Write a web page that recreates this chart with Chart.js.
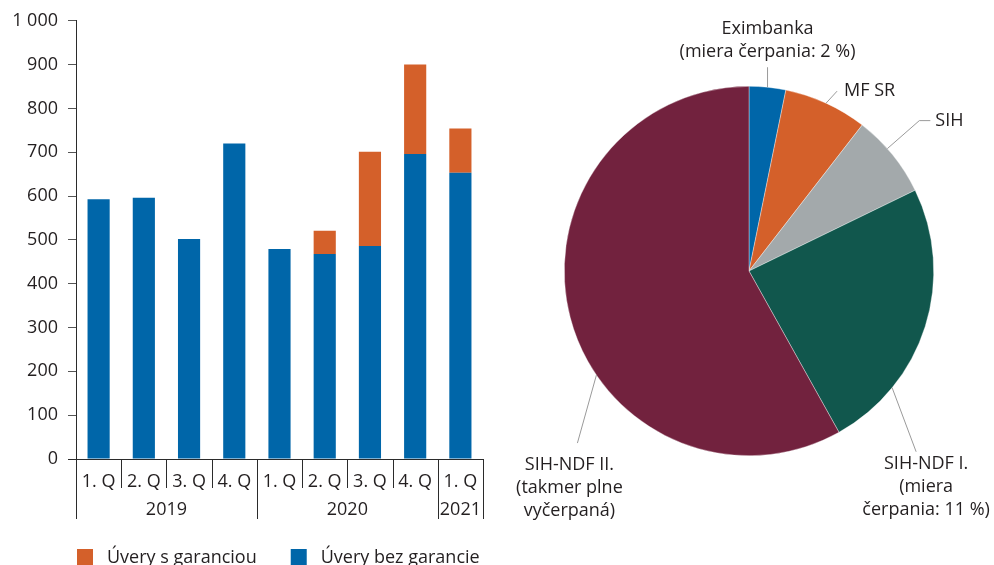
<!DOCTYPE html>
<html lang="sk">
<head>
<meta charset="utf-8">
<title>Úvery a finančné nástroje</title>
<script src="https://cdn.jsdelivr.net/npm/chart.js@4.4.1/dist/chart.umd.min.js"></script>
<style>
  html, body { margin:0; padding:0; background:#fff; overflow:hidden; }
  #wrap { position:relative; width:994px; height:565px; overflow:hidden; }
  #barChart { position:absolute; left:0; top:0; }
  #pieChart { position:absolute; left:500px; top:0; }
</style>
</head>
<body>
<div id="wrap">
  <canvas id="barChart" width="500" height="590"></canvas>
  <canvas id="pieChart" width="494" height="565"></canvas>
</div>
<script>
// bar chart data
const quarters   = ['1. Q','2. Q','3. Q','4. Q','1. Q','2. Q','3. Q','4. Q','1. Q'];
const years      = ['2019','2020','2021'];
const yearSpans  = [4, 4, 1];
const withoutGuarantee = [593, 596, 502, 720, 479, 468, 486, 696, 653];
const withGuarantee    = [null, null, null, null, null, 53, 215, 204, 101];
const seriesNames = ['Úvery bez garancie', 'Úvery s garanciou'];
const yMin = 0, yMax = 1000, yStep = 100;

// pie chart data
const pieNames  = ['Eximbanka', 'MF SR', 'SIH', 'SIH-NDF I.', 'SIH-NDF II.'];
const pieShares = [3.2, 7.3, 7.3, 24.1, 58.1];
const pieTexts  = [
  ['Eximbanka', '(miera čerpania: 2 %)'],
  ['MF SR'],
  ['SIH'],
  ['SIH-NDF I.', '(miera', 'čerpania: 11 %)'],
  ['SIH-NDF II.', '(takmer plne', 'vyčerpaná)']
];

const BLUE = '#0066a9', ORANGE = '#d4602a', GREY = '#a3a9ab', GREEN = '#11574d', MAROON = '#72223e';
const INK = '#231f20', RULE = '#2b2b2b', LEADER = '#9a9a9a';
const FONT = '"Open Sans"';
const SIZE = 18;

Chart.defaults.font.family = FONT;
Chart.defaults.font.size = SIZE;
Chart.defaults.color = INK;

const fmt = v => v >= 1000 ? String(v).replace(/\B(?=(\d{3})+(?!\d))/g, ' ') : String(v);

// two-level category axis + legend below the bars
const quarterAxis = {
  id: 'quarterAxis',
  afterDraw(chart) {
    const { ctx, chartArea: a, scales: { x } } = chart;
    const step = (a.right - a.left) / quarters.length;
    ctx.save();
    ctx.strokeStyle = RULE;
    ctx.lineWidth = 1;
    ctx.beginPath();
    ctx.moveTo(a.left - 8, a.bottom + 0.5);
    ctx.lineTo(a.right, a.bottom + 0.5);
    // year boundaries
    let idx = 0;
    const yearEdges = [0];
    yearSpans.forEach(s => { idx += s; yearEdges.push(idx); });
    for (let i = 0; i <= quarters.length; i++) {
      const bx = Math.round(a.left + i * step) + 0.5;
      const long = yearEdges.includes(i);
      ctx.moveTo(bx, a.bottom);
      ctx.lineTo(bx, a.bottom + (long ? 60 : 29));
    }
    ctx.stroke();

    ctx.fillStyle = INK;
    ctx.font = SIZE + 'px ' + FONT;
    ctx.textAlign = 'center';
    ctx.textBaseline = 'middle';
    quarters.forEach((q, i) => ctx.fillText(q, x.getPixelForValue(i), a.bottom + 23));
    years.forEach((yr, i) => {
      const cx = a.left + (yearEdges[i] + yearEdges[i + 1]) / 2 * step;
      ctx.fillText(yr, cx, a.bottom + 51);
    });

    // legend
    const items = chart.data.datasets.slice().reverse();
    let lx = a.left + 1;
    const ly = a.bottom + 90;
    ctx.textAlign = 'left';
    items.forEach(ds => {
      ctx.fillStyle = ds.backgroundColor;
      ctx.fillRect(lx, ly, 16, 16);
      ctx.fillStyle = INK;
      ctx.fillText(ds.label, lx + 30, ly + 9);
      lx += 30 + ctx.measureText(ds.label).width + 34;
    });
    ctx.restore();
  }
};

new Chart(document.getElementById('barChart'), {
  type: 'bar',
  data: {
    labels: quarters,
    datasets: [
      { label: seriesNames[0], data: withoutGuarantee, backgroundColor: BLUE },
      { label: seriesNames[1], data: withGuarantee, backgroundColor: ORANGE }
    ]
  },
  options: {
    responsive: false,
    animation: false,
    layout: { padding: { top: 20, right: 17, bottom: 131, left: 0 } },
    categoryPercentage: 1,
    barPercentage: 0.49,
    plugins: { legend: { display: false }, tooltip: { enabled: false } },
    scales: {
      x: { stacked: true, display: false },
      y: {
        stacked: true,
        min: yMin, max: yMax,
        afterFit: s => { s.width = 76; },
        ticks: { stepSize: yStep, padding: 10, callback: v => fmt(v), color: INK },
        grid: { drawOnChartArea: false, tickLength: 8, color: '#555' },
        border: { color: RULE, width: 1 }
      }
    }
  },
  plugins: [quarterAxis]
});

// callouts: anchor angle in degrees from 12 o'clock (null = slice middle),
// leader path relative to the anchor, first text line relative to the path end
const callouts = [
  { angle: null,  path: [[0, -20]],             align: 'center', text: [0, -38] },
  { angle: null,  path: [[11, -12]],            align: 'left',   text: [7, 0] },
  { angle: 48.5,  path: [[32, -28], [43, -28]], align: 'left',   text: [5, 0] },
  { angle: 129.2, path: [[24, 64]],             align: 'center', text: [10, 12] },
  { angle: 235.7, path: [[-19, 68]],            align: 'center', text: [-8, 22] }
];

const pieCallouts = {
  id: 'pieCallouts',
  afterDraw(chart) {
    const { ctx } = chart;
    const meta = chart.getDatasetMeta(0);
    ctx.save();
    ctx.font = SIZE + 'px ' + FONT;
    ctx.textBaseline = 'middle';
    meta.data.forEach((arc, i) => {
      const c = callouts[i];
      const ang = c.angle === null ? (arc.startAngle + arc.endAngle) / 2 : (c.angle - 90) * Math.PI / 180;
      const ax = arc.x + arc.outerRadius * Math.cos(ang);
      const ay = arc.y + arc.outerRadius * Math.sin(ang);
      ctx.strokeStyle = LEADER;
      ctx.lineWidth = 1;
      ctx.beginPath();
      ctx.moveTo(ax, ay);
      let ex = ax, ey = ay;
      c.path.forEach(p => { ex = ax + p[0]; ey = ay + p[1]; ctx.lineTo(ex, ey); });
      ctx.stroke();
      ctx.fillStyle = INK;
      ctx.textAlign = c.align;
      pieTexts[i].forEach((line, k) => ctx.fillText(line, ex + c.text[0], ey + c.text[1] + k * 23));
    });
    ctx.restore();
  }
};

new Chart(document.getElementById('pieChart'), {
  type: 'pie',
  data: {
    labels: pieNames,
    datasets: [{
      data: pieShares,
      backgroundColor: [BLUE, ORANGE, GREY, GREEN, MAROON],
      borderColor: 'rgba(255,255,255,0.6)',
      borderWidth: 0.6
    }]
  },
  options: {
    responsive: false,
    animation: false,
    layout: { padding: { top: 86, right: 60, bottom: 109, left: 64 } },
    plugins: { legend: { display: false }, tooltip: { enabled: false } }
  },
  plugins: [pieCallouts]
});
</script>
</body>
</html>
